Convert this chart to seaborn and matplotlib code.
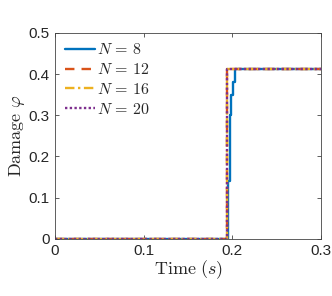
import matplotlib
matplotlib.use("Agg")
import matplotlib.pyplot as plt
import seaborn as sns
import pandas as pd

# step data (value holds until next time)
t_n8 = [0.0, 0.1955, 0.1970, 0.1985, 0.2005, 0.2030, 0.3]
phi_n8 = [0.0, 0.14, 0.30, 0.35, 0.38, 0.412, 0.412]
t_n12 = [0.0, 0.1935, 0.3]
phi_n12 = [0.0, 0.412, 0.412]
t_n16 = [0.0, 0.1935, 0.3]
phi_n16 = [0.0, 0.412, 0.412]
t_n20 = [0.0, 0.1935, 0.3]
phi_n20 = [0.0, 0.412, 0.412]

labels = [r"$N\,=\,8$", r"$N\,=\,12$", r"$N\,=\,16$", r"$N\,=\,20$"]
colors = ["#0072BD", "#D95319", "#EDB120", "#7E2F8E"]
styles = ["-", (0, (4, 3)), (0, (4, 1.5, 1, 1.5)), (0, (1, 1))]

sns.set_style("ticks")
plt.rcParams["font.family"] = ["Liberation Sans", "DejaVu Sans"]
plt.rcParams["mathtext.fontset"] = "cm"

fig = plt.figure(figsize=(3.32, 2.96), dpi=100)
ax = fig.add_axes([0.166, 0.193, 0.801, 0.696])

series = [(t_n8, phi_n8), (t_n12, phi_n12), (t_n16, phi_n16), (t_n20, phi_n20)]
for (t, phi), lab, c, ls in zip(series, labels, colors, styles):
    df = pd.DataFrame({"t": t, "phi": phi})
    sns.lineplot(data=df, x="t", y="phi", ax=ax, color=c, label=lab,
                 drawstyle="steps-post", linewidth=1.7, estimator=None, sort=False)
    ax.lines[-1].set_linestyle(ls)

ax.set_xlim(0, 0.3)
ax.set_ylim(0, 0.5)
ax.set_xticks([0, 0.1, 0.2, 0.3])
ax.set_xticklabels(["0", "0.1", "0.2", "0.3"])
ax.set_yticks([0, 0.1, 0.2, 0.3, 0.4, 0.5])
ax.set_yticklabels(["0", "0.1", "0.2", "0.3", "0.4", "0.5"])
ax.tick_params(direction="in", top=True, right=True, labelsize=11, length=3,
               width=0.6, color="#444444", pad=4)
for s in ax.spines.values():
    s.set_linewidth(0.6)
    s.set_color("#444444")
ax.set_xlabel(r"$\mathrm{Time}\ (s)$", fontsize=13, labelpad=0)
ax.set_ylabel(r"$\mathrm{Damage}\ \varphi$", fontsize=13, labelpad=1)

leg = ax.legend(loc="upper left", frameon=False, fontsize=11.5, handlelength=1.9,
                handletextpad=0.1, labelspacing=0.3, borderaxespad=0.2)

fig.savefig("out.png", dpi=100)
